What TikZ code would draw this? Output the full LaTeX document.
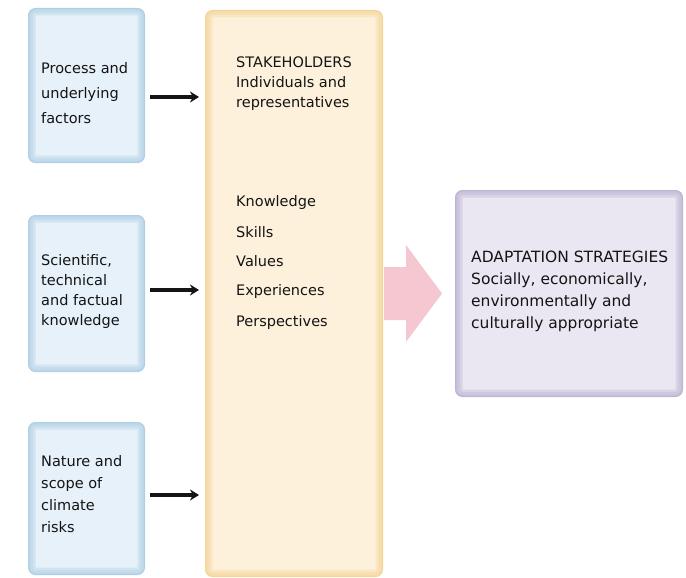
\documentclass[tikz,border=0pt]{standalone}
\usepackage{fontspec}
\setmainfont{DejaVu Sans}
\usetikzlibrary{arrows.meta,calc}
\definecolor{bluefill}{HTML}{E6F1F9}
\definecolor{blueedge}{HTML}{AFCFE6}
\definecolor{orfill}{HTML}{FDF1DC}
\definecolor{oredge}{HTML}{F4D59A}
\definecolor{pufill}{HTML}{EBE7F2}
\definecolor{puedge}{HTML}{BEB5D2}
\definecolor{pinkarr}{HTML}{F5C7D1}
\definecolor{txtcol}{HTML}{141414}
\tikzset{
  glow/.style={path picture={
    \foreach \w in {14,9,4}{
      \draw[#1, line width=\w pt, opacity=0.38]
        (path picture bounding box.north west) rectangle (path picture bounding box.south east);}
  }},
  box/.style={rounded corners=7pt, inner sep=0pt, line width=1pt},
  bluebox/.style={box, fill=bluefill, draw=blueedge, glow=blueedge},
  orbox/.style={box, fill=orfill, draw=oredge, glow=oredge},
  pubox/.style={box, fill=pufill, draw=puedge, glow=puedge},
  txt/.style={align=left, inner sep=0pt, anchor=west, text=txtcol, font=\fontsize{14.5}{20}\selectfont},
  arr/.style={line width=3.5pt, txtcol, -{Stealth[length=9pt,width=11pt]}, shorten <=5pt, shorten >=6pt}
}
\begin{document}
\begin{tikzpicture}[x=1pt,y=-1pt]
\useasboundingbox (0,0) rectangle (686,578);
% blue boxes
\node[bluebox, minimum width=116pt, minimum height=154pt] (b1) at (86.5,85.5) {};
\node[bluebox, minimum width=116pt, minimum height=156pt] (b2) at (86.5,293.5) {};
\node[bluebox, minimum width=116pt, minimum height=152pt] (b3) at (86.5,498.5) {};
% stakeholders box
\node[orbox, minimum width=177pt, minimum height=566pt] (st) at (294,293.5) {};
% adaptation box
\node[pubox, minimum width=227pt, minimum height=206pt] (ad) at (569,293.5) {};
% texts
\node[txt, font=\fontsize{14.5}{25}\selectfont] (t1) at (41,93) {Process and\\underlying\\factors};
\node[txt] (t2) at (41,291) {Scientific,\\technical\\and factual\\knowledge};
\node[txt, font=\fontsize{14.5}{22}\selectfont] (t3) at (41,494) {Nature and\\scope of\\climate\\risks};
\node[txt] (t4) at (236,84) {STAKEHOLDERS\\Individuals and\\representatives};
\node[txt] (k1) at (236,202) {Knowledge};
\node[txt] (k2) at (236,232) {Skills};
\node[txt] (k3) at (236,261) {Values};
\node[txt] (k4) at (236,291) {Experiences};
\node[txt] (k5) at (236,322) {Perspectives};
\node[txt, font=\fontsize{15.5}{22}\selectfont] (t5) at (471,291) {ADAPTATION STRATEGIES\\Socially, economically,\\environmentally and\\culturally appropriate};
% arrows
\coordinate (a1) at (0,97);
\coordinate (a2) at (0,290);
\coordinate (a3) at (0,495);
\draw[arr] (b1.east |- a1) -- (st.west |- a1);
\draw[arr] (b2.east |- a2) -- (st.west |- a2);
\draw[arr] (b3.east |- a3) -- (st.west |- a3);
% big pink arrow
\fill[pinkarr] ($(st.east)+(1,-26.5)$) -- ($(st.east)+(23,-26.5)$) -- ($(st.east)+(23,-48.5)$)
  -- ($(ad.west)+(-13,0)$) -- ($(st.east)+(23,48.5)$) -- ($(st.east)+(23,26.5)$)
  -- ($(st.east)+(1,26.5)$) -- cycle;
\end{tikzpicture}
\end{document}
